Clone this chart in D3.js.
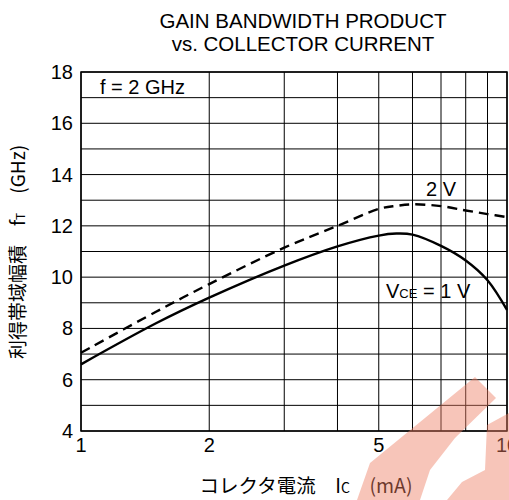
<!DOCTYPE html>
<html>
<head>
<meta charset="utf-8">
<script src="https://cdn.jsdelivr.net/npm/d3@7"></script>
<style>
body { margin: 0; background: #fff; }
svg { display: block; font-family: "Liberation Sans", Arial, sans-serif; }
</style>
</head>
<body>
<div class="mainviz"></div>
<script>
// collector current (mA) and fT (GHz)
var ic = [1, 1.5, 2, 3, 4, 5, 5.5, 6, 7, 8, 9, 10];
var ftVce1 = [6.6, 8.2, 9.2, 10.45, 11.2, 11.62, 11.7, 11.66, 11.22, 10.65, 9.88, 8.72];
var ftVce2 = [7.05, 8.65, 9.73, 11.15, 12.0, 12.66, 12.78, 12.84, 12.77, 12.6, 12.46, 12.34];

var xTicks = [1, 2, 5, 10];
var xGrid = [1, 2, 3, 4, 5, 6, 7, 8, 9, 10];
var yTicks = [4, 6, 8, 10, 12, 14, 16, 18];
var yGrid = d3.range(4, 19, 1);

var margin = { top: 72, right: 2, bottom: 69, left: 81 };
var W = 509, H = 500;
var width = W - margin.left - margin.right,
	height = H - margin.top - margin.bottom;

var svg = d3.select(".mainviz").append("svg")
	.attr("width", W)
	.attr("height", H);

var g = svg.append("g")
	.attr("transform", "translate(" + margin.left + "," + margin.top + ")");

var x = d3.scaleLog().domain([1, 10]).range([0, width]);
var y = d3.scaleLinear().domain([4, 18]).range([height, 0]);

// grid
g.selectAll("line.hg").data(yGrid).enter().append("line")
	.attr("x1", 0).attr("x2", width)
	.attr("y1", function(d){ return y(d); }).attr("y2", function(d){ return y(d); })
	.attr("stroke", "#000").attr("stroke-width", 1);

g.selectAll("line.vg").data(xGrid).enter().append("line")
	.attr("y1", 0).attr("y2", height)
	.attr("x1", function(d){ return x(d); }).attr("x2", function(d){ return x(d); })
	.attr("stroke", "#000").attr("stroke-width", 1);

g.append("rect")
	.attr("width", width).attr("height", height)
	.attr("fill", "none").attr("stroke", "#000").attr("stroke-width", 1.5);

// tick labels
g.selectAll("text.yt").data(yTicks).enter().append("text")
	.attr("x", -8).attr("y", function(d){ return y(d) + 7; })
	.attr("text-anchor", "end").attr("font-size", 20)
	.text(function(d){ return d; });

g.selectAll("text.xt").data(xTicks).enter().append("text")
	.attr("x", function(d){ return x(d); }).attr("y", height + 21)
	.attr("text-anchor", "middle").attr("font-size", 20)
	.text(function(d){ return d; });

// curves
var line = d3.line()
	.x(function(d){ return x(d[0]); })
	.y(function(d){ return y(d[1]); })
	.curve(d3.curveCatmullRom.alpha(0.5));

g.append("path")
	.attr("d", line(d3.zip(ic, ftVce2)))
	.attr("fill", "none").attr("stroke", "#000")
	.attr("stroke-width", 2.4).attr("stroke-dasharray", "10,6");

g.append("path")
	.attr("d", line(d3.zip(ic, ftVce1)))
	.attr("fill", "none").attr("stroke", "#000")
	.attr("stroke-width", 2.4);

// labels in plot
g.append("text").attr("x", 19).attr("y", 22).attr("font-size", 20).text("f = 2 GHz");

g.append("text").attr("x", 345).attr("y", 124).attr("font-size", 20).text("2 V");

var vce = g.append("text").attr("x", 305).attr("y", 226).attr("font-size", 20);
vce.append("tspan").text("V");
vce.append("tspan").attr("font-size", 13).text("CE");
vce.append("tspan").text(" = 1 V");

// title
svg.append("text").attr("x", 303).attr("y", 28).attr("text-anchor", "middle")
	.attr("font-size", 20.5).text("GAIN BANDWIDTH PRODUCT");
svg.append("text").attr("x", 303).attr("y", 51).attr("text-anchor", "middle")
	.attr("font-size", 20.5).text("vs. COLLECTOR CURRENT");

// axis titles
var yt = svg.append("text")
	.attr("transform", "translate(25," + 252 + ") rotate(-90)")
	.attr("text-anchor", "middle").attr("font-size", 19)
	.attr("font-family", "'Noto Sans CJK JP', 'Liberation Sans', sans-serif");
yt.append("tspan").text("利得帯域幅積　f");
yt.append("tspan").attr("font-size", 12).text("T");
yt.append("tspan").text("　(GHz)");

var xt = svg.append("text")
	.attr("x", 306).attr("y", 493)
	.attr("text-anchor", "middle").attr("font-size", 19.5)
	.attr("font-family", "'Noto Sans CJK JP', 'Liberation Sans', sans-serif");
xt.append("tspan").text("コレクタ電流　I");
xt.append("tspan").attr("font-size", 14).text("C");
xt.append("tspan").text("　(mA)");

// watermark fragment in the lower right corner
var wm = svg.append("g").attr("fill", "#ee7f63").attr("fill-opacity", 0.45);
wm.append("polygon").attr("points", "357,500 370,463 475,377 496,398 455,438 430,470 420,500");
wm.append("polygon").attr("points", "487,425 509,413 509,500 447,500 462,482 485,470");
</script>
</body>
</html>
